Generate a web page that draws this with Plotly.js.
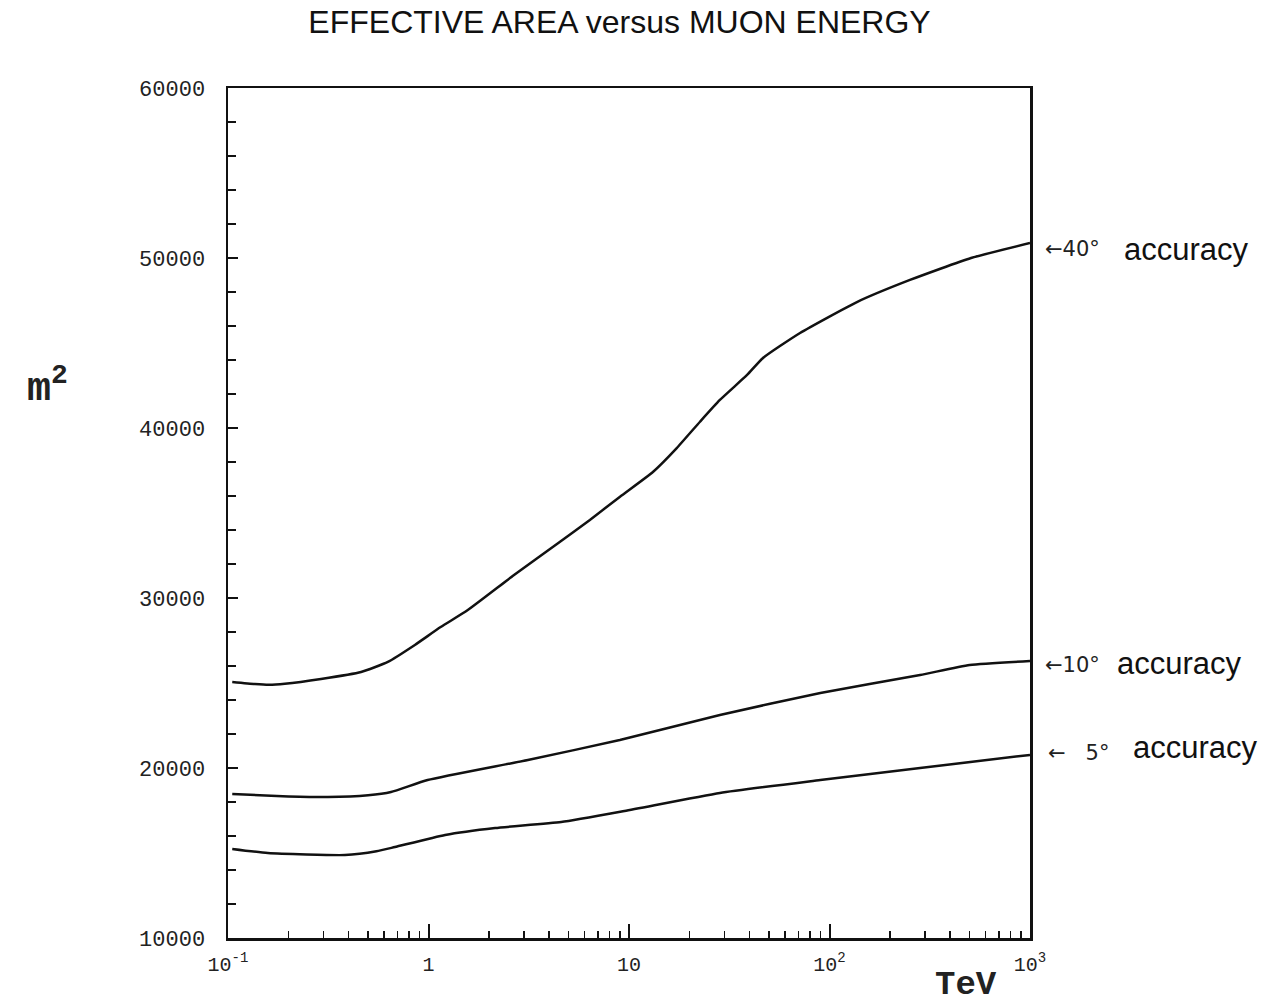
<!DOCTYPE html>
<html>
<head>
<meta charset="utf-8">
<script src="https://cdn.plot.ly/plotly-3.0.1.min.js"></script>
<style>html,body{margin:0;padding:0;background:#fff;}#chart{width:1280px;height:1008px;}</style>
</head>
<body>
<div id="chart"></div>
<script>
// Muon energy (TeV) and effective area (m^2)
const energy40 = [0.105, 0.136, 0.16, 0.192, 0.291, 0.461, 0.627, 0.855, 1.15, 1.57, 2.67, 4.53, 6.38, 9.02, 13.2, 17.3, 22.6, 28.4, 38.8, 46.6, 71.3, 137, 252, 508, 1000];
const area40   = [25060, 24940, 24900, 24960, 25240, 25650, 26240, 27240, 28290, 29290, 31350, 33310, 34590, 35960, 37430, 38820, 40370, 41650, 43120, 44120, 45590, 47410, 48710, 50000, 50880];

const energy10 = [0.105, 0.2, 0.315, 0.5, 0.65, 0.99, 3.13, 9.0, 28.4, 90, 283, 500, 1000];
const area10   = [18470, 18330, 18290, 18400, 18590, 19290, 20470, 21650, 23120, 24410, 25470, 26060, 26290];

const energy5 = [0.105, 0.158, 0.383, 0.55, 0.68, 1.21, 2.15, 4.59, 9.5, 28.4, 90, 283, 1000];
const area5   = [15240, 15000, 14880, 15100, 15350, 16060, 16470, 16820, 17470, 18530, 19290, 20000, 20770];

const seriesLabels = ["40°", "10°", "5°"];

const xTickVals = [0.1, 1, 10, 100, 1000];
const xTickText = ["10<sup>-1</sup>", "1", "10", "10<sup>2</sup>", "10<sup>3</sup>"];
const yTickVals = [10000, 20000, 30000, 40000, 50000, 60000];
const yTickText = ["10000", "20000", "30000", "40000", "50000", "60000"];

const lineStyle = {color: '#111', width: 2.5, shape: 'spline', smoothing: 0.5};
const traces = [
  {x: energy40, y: area40, name: seriesLabels[0], mode: 'lines', line: lineStyle},
  {x: energy10, y: area10, name: seriesLabels[1], mode: 'lines', line: lineStyle},
  {x: energy5,  y: area5,  name: seriesLabels[2], mode: 'lines', line: lineStyle}
];

const mono = 'Liberation Mono, DejaVu Sans Mono, monospace';
const markFont = 'DejaVu Sans, Liberation Mono, sans-serif';
const sans = 'Liberation Sans, Arial, sans-serif';

const annotations = [
  {xref:'paper', yref:'y', x:1.016, y:area40[area40.length-1], yshift:-6, xanchor:'left', yanchor:'middle', showarrow:false,
   text:'←' + seriesLabels[0], font:{family:markFont, size:21, color:'#222'}},
  {xref:'paper', yref:'y', x:1.1147, y:area40[area40.length-1], yshift:-6, xanchor:'left', yanchor:'middle', showarrow:false,
   text:'accuracy', font:{family:sans, size:31, color:'#111'}},
  {xref:'paper', yref:'y', x:1.016, y:area10[area10.length-1], yshift:-4, xanchor:'left', yanchor:'middle', showarrow:false,
   text:'←' + seriesLabels[1], font:{family:markFont, size:21, color:'#222'}},
  {xref:'paper', yref:'y', x:1.106, y:area10[area10.length-1], yshift:-2, xanchor:'left', yanchor:'middle', showarrow:false,
   text:'accuracy', font:{family:sans, size:31, color:'#111'}},
  {xref:'paper', yref:'y', x:1.020, y:area5[area5.length-1], yshift:2, xanchor:'left', yanchor:'middle', showarrow:false,
   text:'←   ' + seriesLabels[2], font:{family:markFont, size:21, color:'#222'}},
  {xref:'paper', yref:'y', x:1.126, y:area5[area5.length-1], yshift:7, xanchor:'left', yanchor:'middle', showarrow:false,
   text:'accuracy', font:{family:sans, size:31, color:'#111'}},
  {xref:'paper', yref:'paper', x:-0.225, y:0.65, xanchor:'center', yanchor:'middle', showarrow:false,
   text:'m<sup>2</sup>', font:{family:mono, size:40, color:'#222', weight:'bold'}},
  {xref:'paper', yref:'paper', x:0.92, y:-0.0553, xanchor:'center', yanchor:'middle', showarrow:false,
   text:'<b>TeV</b>', font:{family:mono, size:34, color:'#222'}}
];

const layout = {
  width: 1280, height: 1008,
  margin: {l: 228, r: 250, t: 88, b: 70},
  paper_bgcolor: '#fff', plot_bgcolor: '#fff',
  showlegend: false,
  title: {text: 'EFFECTIVE AREA versus MUON ENERGY', font: {family: sans, size: 32, color: '#111'},
          x: 0.484, xanchor: 'center', y: 0.978, yanchor: 'middle'},
  xaxis: {
    type: 'log', range: [-1, 3],
    showline: true, mirror: true, linecolor: '#111', linewidth: 2.5,
    showgrid: false, zeroline: false,
    tickmode: 'array', tickvals: xTickVals, ticktext: xTickText,
    ticks: 'inside', ticklen: 14, tickwidth: 2, tickcolor: '#111',
    ticklabelstandoff: 6,
    tickfont: {family: mono, size: 20, color: '#222'},
    minor: {dtick: 'D1', ticks: 'inside', ticklen: 7, tickwidth: 1.5, tickcolor: '#111', showgrid: false}
  },
  yaxis: {
    range: [10000, 60000],
    showline: true, mirror: true, linecolor: '#111', linewidth: 2.5,
    showgrid: false, zeroline: false,
    tickmode: 'array', tickvals: yTickVals, ticktext: yTickText,
    ticks: 'inside', ticklen: 10, tickwidth: 2.5, tickcolor: '#111',
    ticklabelstandoff: 16,
    tickfont: {family: mono, size: 22, color: '#222'},
    minor: {dtick: 2000, ticks: 'inside', ticklen: 8, tickwidth: 2.5, tickcolor: '#111', showgrid: false}
  },
  annotations: annotations
};

Plotly.newPlot('chart', traces, layout, {displayModeBar: false, staticPlot: true});
</script>
</body>
</html>
